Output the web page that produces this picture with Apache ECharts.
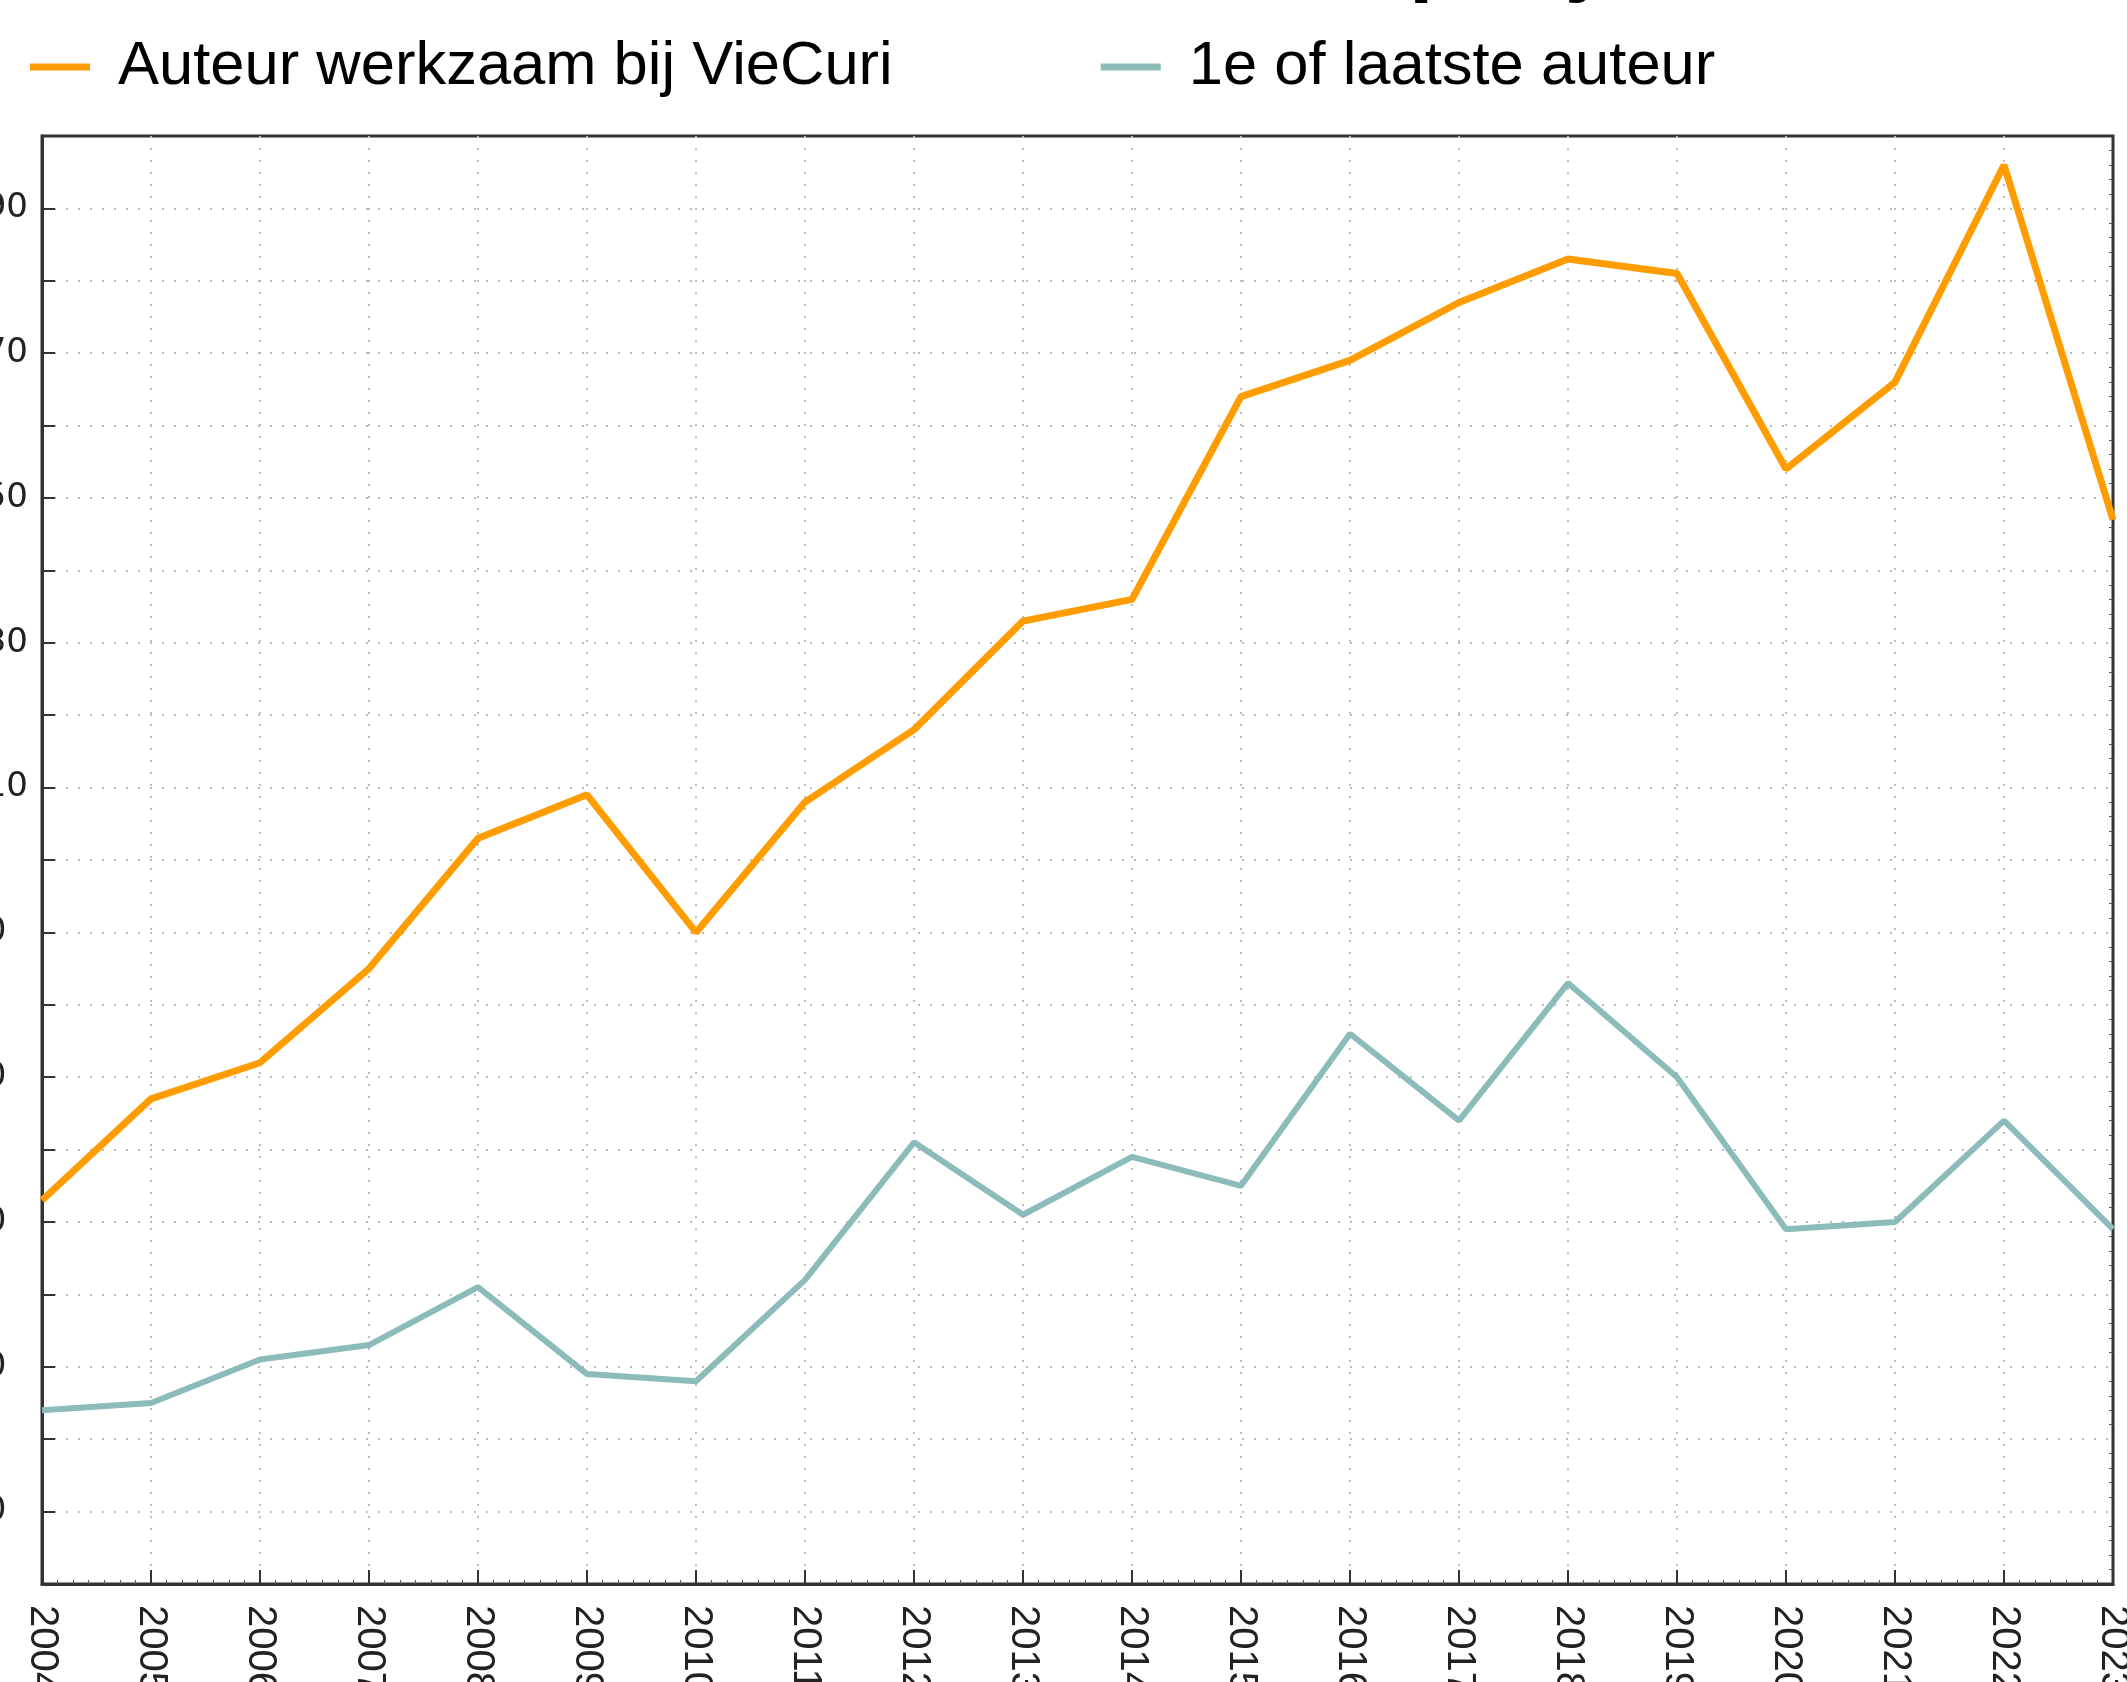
<!DOCTYPE html>
<html>
<head>
<meta charset="utf-8">
<script src="https://cdn.jsdelivr.net/npm/echarts@6/dist/echarts.min.js"></script>
<style>
  html, body { margin: 0; padding: 0; background: #fff; }
  #chart { width: 2127px; height: 1682px; }
</style>
</head>
<body>
<div id="chart"></div>
<script>
const years = ['2004', '2005', '2006', '2007', '2008', '2009', '2010', '2011', '2012', '2013',
  '2014', '2015', '2016', '2017', '2018', '2019', '2020', '2021', '2022', '2023'];
const viecuri = [53, 67, 72, 85, 103, 109, 90, 108, 118, 133, 136, 164, 169, 177, 183, 181, 154, 166, 196, 147];
const firstLast = [24, 25, 31, 33, 41, 29, 28, 42, 61, 51, 59, 55, 76, 64, 83, 70, 49, 50, 64, 49];

const font = 'Liberation Sans, Arial, sans-serif';
const dotted = { color: '#bdbdbd', width: 2, type: [2, 10] };

const chart = echarts.init(document.getElementById('chart'));

chart.setOption({
  animation: false,
  backgroundColor: '#fff',
  // title is cut off by the top edge, only the descenders show
  title: {
    text: 'Publicaties per jaar',
    left: 920,
    top: -83,
    padding: 0,
    textStyle: { fontFamily: font, fontSize: 88, fontWeight: 'bold', color: '#000', lineHeight: 88 }
  },
  legend: {
    left: 30,
    top: 36,
    padding: 0,
    icon: 'rect',
    itemWidth: 60,
    itemHeight: 7,
    itemGap: 208,
    textStyle: { fontFamily: font, fontSize: 61.5, color: '#000', padding: [0, 0, 0, 23] },
    data: ['Auteur werkzaam bij VieCuri', '1e of laatste auteur']
  },
  grid: {
    left: 42, right: 14, top: 136, bottom: 98,
    containLabel: false,
    outerBoundsMode: 'none',
    show: true, borderColor: '#333', borderWidth: 3
  },
  xAxis: [{
    type: 'category',
    data: years,
    boundaryGap: false,
    axisLine: { lineStyle: { color: '#333', width: 3 } },
    axisTick: { show: true, inside: true, length: 14, interval: 0, lineStyle: { color: '#333', width: 2 } },
    axisLabel: { rotate: -90, margin: 21, interval: 0, color: '#222', fontFamily: font, fontSize: 40 },
    splitLine: { show: true, interval: 0, showMinLine: false, showMaxLine: false, lineStyle: dotted }
  }, {
    type: 'value',
    position: 'bottom',
    min: 0, max: 19, interval: 1,
    axisLine: { show: false },
    axisTick: { show: false, inside: true },
    minorTick: { show: true, splitNumber: 7, length: 4, lineStyle: { color: '#555', width: 1 } },
    axisLabel: { show: false },
    splitLine: { show: false }
  }],
  yAxis: [{
    type: 'value',
    min: 0, max: 200, interval: 10,
    axisLine: { show: true, lineStyle: { color: '#333', width: 3 } },
    axisTick: { show: true, inside: true, length: 13, lineStyle: { color: '#333', width: 2 } },
    axisLabel: {
      margin: 79, align: 'left', color: '#222',
      fontFamily: 'DejaVu Sans, sans-serif', fontSize: 34,
      formatter: v => (v % 20 === 10 ? String(v) : '')
    },
    splitLine: { show: true, showMinLine: false, showMaxLine: false, lineStyle: dotted }
  }, {
    type: 'value',
    position: 'right',
    min: 0, max: 200, interval: 10,
    axisLine: { show: false },
    axisTick: { show: false, inside: true },
    minorTick: { show: true, splitNumber: 5, length: 4, lineStyle: { color: '#555', width: 1 } },
    axisLabel: { show: false },
    splitLine: { show: false }
  }],
  series: [{
    name: 'Auteur werkzaam bij VieCuri',
    type: 'line',
    data: viecuri,
    showSymbol: false,
    color: '#ff9c00',
    lineStyle: { width: 7, color: '#ff9c00' }
  }, {
    name: '1e of laatste auteur',
    type: 'line',
    data: firstLast,
    showSymbol: false,
    color: '#8bbcb9',
    lineStyle: { width: 6, color: '#8bbcb9' }
  }]
});
</script>
</body>
</html>
